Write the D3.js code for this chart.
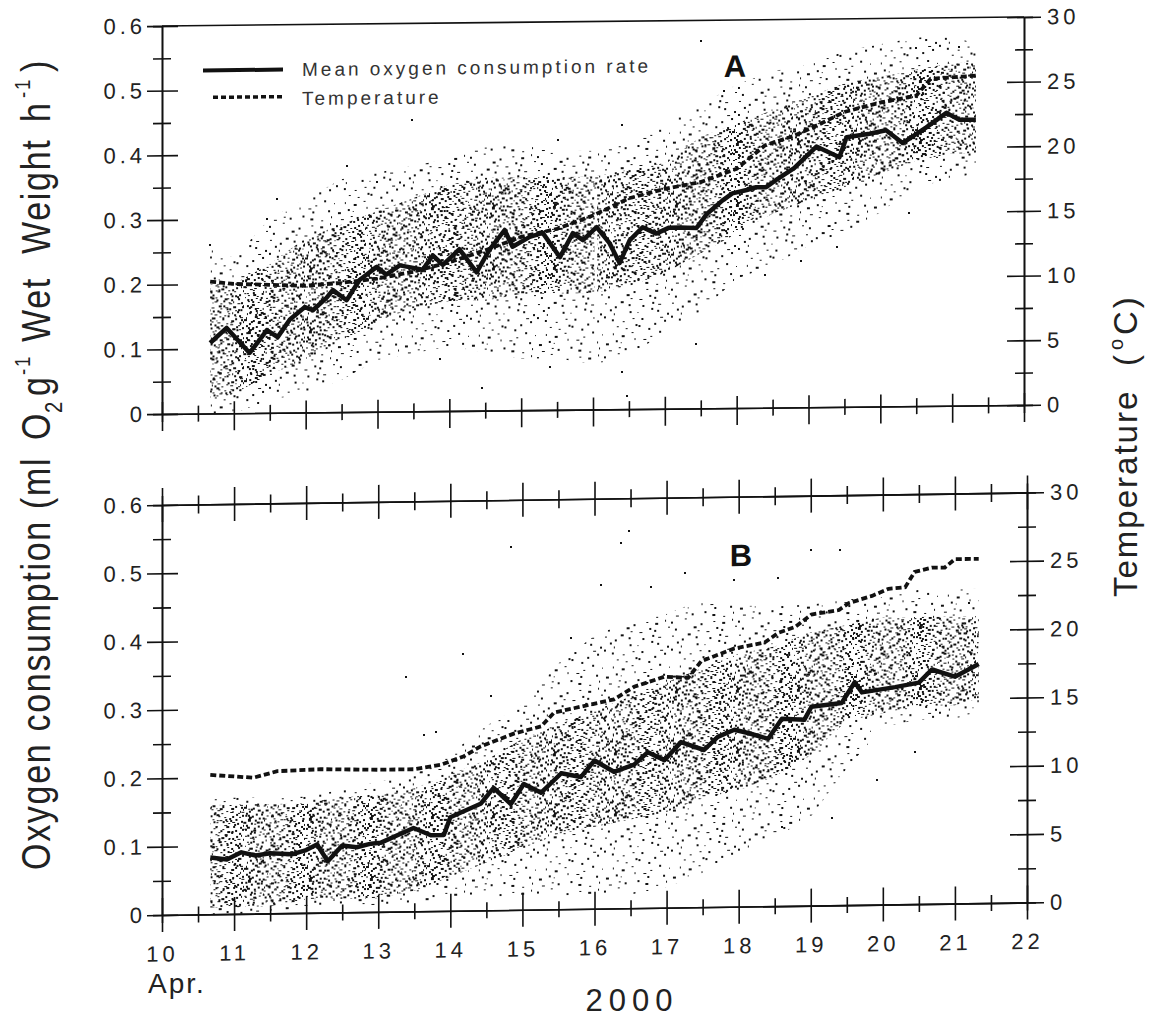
<!DOCTYPE html>
<html>
<head>
<meta charset="utf-8">
<script src="https://cdn.jsdelivr.net/npm/d3@7"></script>
<style>
  body { margin: 0; background: #fff; }
  text { font-family: "Liberation Sans", Arial, Helvetica, sans-serif; }
</style>
</head>
<body>
<script>
// Oxygen consumption vs temperature, two panels (A, B), April 10-22 2000
// cloud of single measurements is drawn as a stippled band (envelopes read off the scan)

const days = [10.67, 11, 11.5, 12, 12.5, 13, 13.5, 14, 14.5, 15, 15.5, 16, 16.5, 17, 17.5, 18, 18.5, 19, 19.5, 20, 20.5, 21, 21.33];

// panel A envelopes (ml O2 g-1 h-1)
const aOuterHi = [0.26,0.24,0.30,0.33,0.36,0.37,0.38,0.39,0.41,0.41,0.40,0.40,0.41,0.44,0.47,0.50,0.52,0.53,0.55,0.56,0.57,0.57,0.56];
const aOuterLo = [0.00,0.00,0.02,0.03,0.05,0.08,0.09,0.10,0.09,0.08,0.08,0.07,0.08,0.12,0.15,0.20,0.22,0.25,0.27,0.30,0.34,0.35,0.36];
const aInnerHi = [0.20,0.20,0.23,0.27,0.29,0.31,0.33,0.35,0.36,0.36,0.36,0.36,0.37,0.38,0.42,0.44,0.46,0.48,0.50,0.51,0.52,0.53,0.53];
const aInnerLo = [0.02,0.03,0.06,0.08,0.11,0.14,0.16,0.17,0.17,0.18,0.18,0.18,0.19,0.21,0.24,0.27,0.30,0.32,0.34,0.36,0.38,0.39,0.39];
// short break in the panel A recording [day, from, to]
const aGaps = [[16.04, 0.03, 0.33]];

// panel B envelopes
const bOuterHi = [0.17,0.17,0.17,0.17,0.18,0.19,0.20,0.23,0.27,0.30,0.36,0.40,0.42,0.43,0.45,0.44,0.44,0.44,0.45,0.45,0.46,0.46,0.46];
const bOuterLo = [0.00,0.00,0.00,0.01,0.01,0.01,0.01,0.02,0.02,0.02,0.02,0.02,0.02,0.03,0.05,0.08,0.10,0.13,0.20,0.26,0.27,0.27,0.28];
const bInnerHi = [0.16,0.16,0.16,0.16,0.17,0.17,0.18,0.20,0.22,0.25,0.27,0.29,0.31,0.33,0.35,0.37,0.38,0.40,0.41,0.42,0.42,0.42,0.42];
const bInnerLo = [0.01,0.01,0.01,0.02,0.02,0.02,0.03,0.05,0.07,0.09,0.11,0.12,0.13,0.14,0.16,0.17,0.19,0.22,0.27,0.28,0.29,0.29,0.30];

// isolated points outside the main cloud [day, value]
const aOutliers = [[13.48,0.45],[15.51,0.418],[16.4,0.44],[17.51,0.568],[17.83,0.49],[14.46,0.035],[15.4,0.067],[16.41,0.057],[16.47,0.02],
  [17.44,0.10],[18.39,0.205],[13.87,0.08],[12.57,0.38],[10.67,0.26],[11.46,0.30],[12.99,0.355],[11.6,0.33],[20.5,0.554],[18.9,0.227],
  [19.39,0.248],[20.4,0.299],[21.1,0.555]];
const bOutliers = [[14.84,0.531],[16.37,0.535],[16.48,0.552],[14.17,0.376],[13.38,0.343],[15.67,0.396],[16.09,0.474],[16.79,0.47],
  [17.25,0.49],[17.94,0.478],[18.55,0.48],[13.63,0.258],[13.8,0.262],[14.56,0.314],[19.01,0.52],[19.4,0.52],[19.92,0.182],[20.44,0.222],
  [19.29,0.128],[18.6,0.115],[21.2,0.44]];

// mean oxygen consumption rate [day, value]
const aMean = [[10.67,0.109],[10.9,0.132],[11.22,0.093],[11.46,0.128],[11.61,0.117],[11.78,0.144],[11.99,0.163],[12.1,0.158],[12.29,0.177],
  [12.38,0.189],[12.57,0.173],[12.75,0.204],[12.99,0.224],[13.12,0.212],[13.31,0.226],[13.63,0.219],[13.77,0.241],[13.91,0.226],[14.14,0.25],
  [14.38,0.214],[14.56,0.249],[14.77,0.279],[14.88,0.253],[15.12,0.268],[15.3,0.274],[15.54,0.236],[15.72,0.273],[15.86,0.262],[16.05,0.282],
  [16.23,0.257],[16.37,0.226],[16.51,0.261],[16.69,0.281],[16.88,0.271],[17.06,0.28],[17.2,0.28],[17.44,0.279],[17.58,0.3],[17.8,0.321],
  [17.94,0.332],[18.14,0.337],[18.27,0.341],[18.41,0.341],[18.55,0.352],[18.8,0.37],[19.11,0.403],[19.43,0.386],[19.53,0.417],[19.85,0.422],
  [20.08,0.427],[20.31,0.407],[20.64,0.431],[20.92,0.453],[21.1,0.442],[21.33,0.442]];
const bMean = [[10.67,0.083],[10.9,0.08],[11.1,0.09],[11.3,0.085],[11.5,0.088],[11.8,0.086],[12.0,0.092],[12.15,0.1],[12.3,0.075],[12.5,0.098],
  [12.7,0.095],[12.9,0.1],[13.03,0.101],[13.49,0.122],[13.73,0.111],[13.91,0.111],[14.0,0.137],[14.42,0.156],[14.6,0.179],[14.84,0.155],
  [15.02,0.184],[15.26,0.171],[15.54,0.199],[15.81,0.193],[16.0,0.217],[16.27,0.2],[16.55,0.21],[16.74,0.228],[16.97,0.216],[17.2,0.242],
  [17.52,0.23],[17.71,0.249],[17.94,0.259],[18.13,0.254],[18.41,0.245],[18.6,0.274],[18.91,0.272],[19.01,0.291],[19.43,0.296],[19.61,0.326],
  [19.71,0.311],[20.17,0.318],[20.5,0.324],[20.68,0.343],[21.0,0.332],[21.33,0.35]];

// temperature (deg C) [day, temp]
const aTemp = [[10.67,10.2],[11.0,10.0],[11.5,9.9],[12.0,9.8],[12.5,10.0],[13.0,10.3],[13.5,10.8],[14.0,11.5],[14.5,12.4],[15.0,13.4],
  [15.5,14.0],[16.0,15.0],[16.5,16.3],[17.0,17.0],[17.5,17.5],[18.0,18.5],[18.4,20.3],[18.8,21.0],[19.2,22.0],[19.5,22.8],[20.0,23.5],
  [20.5,24.0],[20.7,25.3],[21.33,25.5]];
const bTemp = [[10.67,10.2],[11.27,9.95],[11.6,10.4],[12.2,10.5],[13.0,10.4],[13.5,10.4],[13.87,10.7],[14.19,11.3],[14.42,12.0],[14.88,12.9],
  [15.26,13.4],[15.44,14.4],[15.81,14.8],[16.27,15.3],[16.55,16.2],[16.97,16.9],[17.3,16.8],[17.48,18.0],[17.94,18.9],[18.36,19.3],
  [18.55,20.0],[18.78,20.4],[19.01,21.3],[19.39,21.6],[19.53,22.1],[19.85,22.6],[20.08,23.1],[20.31,23.2],[20.44,24.3],[20.68,24.6],
  [20.86,24.6],[21.0,25.2],[21.33,25.2]];

// axis ticks
const dayTicks = d3.range(10, 23, 1);
const dayMinor = d3.range(10.5, 22, 1);
const o2Ticks = [0, 0.1, 0.2, 0.3, 0.4, 0.5, 0.6];
const o2Minor = [0.05, 0.15, 0.25, 0.35, 0.45, 0.55];
const tempTicks = [0, 5, 10, 15, 20, 25, 30];
const tempMinor = [2.5, 7.5, 12.5, 17.5, 22.5, 27.5];

const W = 1154, H = 1020, X0 = 162;
const ink = "#111";

const svg = d3.select("body").append("svg").attr("width", W).attr("height", H);
svg.append("rect").attr("width", W).attr("height", H).attr("fill", "#fff");

// stipple textures: specks spread with a Halton sequence so the tile does not look like a grid
const defs = svg.append("defs");
function halton(i, b) {
  let f = 1, r = 0;
  while (i > 0) { f /= b; r += f * (i % b); i = Math.floor(i / b); }
  return r;
}
function makePattern(id, size, n, offset) {
  const p = defs.append("pattern").attr("id", id)
    .attr("patternUnits", "userSpaceOnUse").attr("width", size).attr("height", size);
  const specks = d3.range(offset, offset + n).map(i => [
    halton(i, 2) * size, halton(i, 3) * size, 1.5 + halton(i, 5) * 1.2, 1.2 + halton(i, 7) * 0.9
  ]);
  p.selectAll("rect").data(specks).join("rect")
    .attr("x", d => d[0]).attr("y", d => d[1])
    .attr("width", d => d[2]).attr("height", d => d[3])
    .attr("fill", ink).attr("shape-rendering", "crispEdges");
}
makePattern("sparse", 67, 60, 11);
makePattern("dense", 61, 200, 300);

function drawPanel(cfg) {
  const x = d3.scaleLinear().domain([10, 22]).range([X0, cfg.right]);
  const y = d3.scaleLinear().domain([0, 0.6]).range([cfg.bottom, cfg.top]);
  const yT = d3.scaleLinear().domain([0, 30]).range([cfg.bottom, cfg.top]);
  const skew = Math.atan(cfg.slope) * 180 / Math.PI;

  const g = svg.append("g")
    .attr("transform", `translate(${X0},${cfg.bottom}) skewY(${skew}) translate(${-X0},${-cfg.bottom})`);

  // measurement cloud
  const env = (lo, hi) => d3.area()
    .x((d, i) => x(days[i]))
    .y0((d, i) => y(lo[i]))
    .y1((d, i) => y(hi[i]))(days);
  g.append("path").attr("d", env(cfg.outerLo, cfg.outerHi)).attr("fill", "url(#sparse)");
  g.append("path").attr("d", env(cfg.innerLo, cfg.innerHi)).attr("fill", "url(#dense)");
  g.append("g").selectAll("rect").data(cfg.outliers).join("rect")
    .attr("x", d => x(d[0]) - 1).attr("y", d => y(d[1]) - 1)
    .attr("width", 2).attr("height", 2).attr("fill", ink).attr("shape-rendering", "crispEdges");
  g.append("g").selectAll("line").data(cfg.gaps).join("line")
    .attr("x1", d => x(d[0])).attr("x2", d => x(d[0]))
    .attr("y1", d => y(d[1])).attr("y2", d => y(d[2]))
    .attr("stroke", "#fff").attr("stroke-width", 2.5);

  // temperature + mean lines
  g.append("path").datum(cfg.temp)
    .attr("d", d3.line().x(d => x(d[0])).y(d => yT(d[1])))
    .attr("fill", "none").attr("stroke", ink).attr("stroke-width", 3.8)
    .attr("stroke-dasharray", "6,3");
  g.append("path").datum(cfg.mean)
    .attr("d", d3.line().x(d => x(d[0])).y(d => y(d[1])))
    .attr("fill", "none").attr("stroke", ink).attr("stroke-width", 4.5)
    .attr("stroke-linejoin", "round");

  const axStyle = sel => {
    sel.select(".domain").attr("stroke", ink).attr("stroke-width", 1.6);
    sel.selectAll(".tick line").attr("stroke", ink).attr("stroke-width", 1.6);
    sel.selectAll("text").attr("fill", "#222").style("font-size", "22px").style("letter-spacing", "4px")
      .style("font-family", '"Liberation Sans", Arial, sans-serif');
  };
  const fmt = d => d === 0 ? "0" : d3.format(".1f")(d);

  // left axis
  g.append("g").attr("transform", `translate(${X0},0)`)
    .call(d3.axisLeft(y).tickValues(o2Ticks).tickSize(15).tickSizeOuter(0).tickPadding(1).tickFormat(fmt))
    .call(axStyle).call(s => s.selectAll(".tick line").attr("x1", 16));
  g.append("g").attr("transform", `translate(${X0},0)`)
    .call(d3.axisLeft(y).tickValues(o2Minor).tickSize(9).tickFormat(""))
    .call(axStyle).call(s => s.selectAll(".tick line").attr("x1", 9));

  // right axis (temperature)
  g.append("g").attr("transform", `translate(${cfg.right},0)`)
    .call(d3.axisRight(yT).tickValues(tempTicks).tickSize(17).tickSizeOuter(0).tickPadding(6))
    .call(axStyle).call(s => s.selectAll(".tick line").attr("x1", -17));
  g.append("g").attr("transform", `translate(${cfg.right},0)`)
    .call(d3.axisRight(yT).tickValues(tempMinor).tickSize(9).tickFormat(""))
    .call(axStyle).call(s => s.selectAll(".tick line").attr("x1", -9));

  // bottom axis
  g.append("g").attr("transform", `translate(0,${cfg.bottom})`)
    .call(d3.axisBottom(x).tickValues(dayTicks).tickSize(17).tickSizeOuter(0).tickPadding(14)
      .tickFormat(cfg.dayLabels ? d3.format("d") : ""))
    .call(axStyle).call(s => s.selectAll(".tick line").attr("y1", -cfg.tickUp));
  g.append("g").attr("transform", `translate(0,${cfg.bottom})`)
    .call(d3.axisBottom(x).tickValues(dayMinor).tickSize(8).tickFormat(""))
    .call(axStyle).call(s => s.selectAll(".tick line").attr("y1", -8));

  // top axis
  if (cfg.topTicks) {
    g.append("g").attr("transform", `translate(0,${cfg.top})`)
      .call(d3.axisTop(x).tickValues(dayTicks).tickSize(17).tickSizeOuter(0).tickFormat(""))
      .call(axStyle).call(s => s.selectAll(".tick line").attr("y1", 17));
    g.append("g").attr("transform", `translate(0,${cfg.top})`)
      .call(d3.axisTop(x).tickValues(dayMinor).tickSize(9).tickFormat(""))
      .call(axStyle).call(s => s.selectAll(".tick line").attr("y1", 9));
  } else {
    g.append("line").attr("x1", x(10)).attr("x2", x(22)).attr("y1", y(0.6)).attr("y2", y(0.6))
      .attr("stroke", ink).attr("stroke-width", 1.6);
  }

  // panel letter (placed in screen coords, undo skew)
  const unskew = (px, py) => py - cfg.slope * (px - X0);
  g.append("text").attr("x", cfg.letterX).attr("y", unskew(cfg.letterX, cfg.letterY))
    .attr("text-anchor", "middle").style("font-size", "31px").style("font-weight", "bold")
    .attr("fill", ink).text(cfg.letter);

  return { g, unskew };
}

const pA = drawPanel({
  top: 26, bottom: 414, right: 1024, slope: -9 / 862,
  outerLo: aOuterLo, outerHi: aOuterHi, innerLo: aInnerLo, innerHi: aInnerHi,
  outliers: aOutliers, gaps: aGaps, mean: aMean, temp: aTemp,
  dayLabels: false, tickUp: 12, topTicks: false,
  letter: "A", letterX: 735, letterY: 77
});
drawPanel({
  top: 505, bottom: 915, right: 1027, slope: -12.5 / 865,
  outerLo: bOuterLo, outerHi: bOuterHi, innerLo: bInnerLo, innerHi: bInnerHi,
  outliers: bOutliers, gaps: [], mean: bMean, temp: bTemp,
  dayLabels: true, tickUp: 17, topTicks: true,
  letter: "B", letterX: 741, letterY: 566
});

// legend in panel A
const lg = pA.g.append("g");
lg.append("line").attr("x1", 203).attr("x2", 283)
  .attr("y1", pA.unskew(243, 70)).attr("y2", pA.unskew(243, 70))
  .attr("stroke", ink).attr("stroke-width", 4);
lg.append("line").attr("x1", 213).attr("x2", 283)
  .attr("y1", pA.unskew(248, 97)).attr("y2", pA.unskew(248, 97))
  .attr("stroke", ink).attr("stroke-width", 3.5).attr("stroke-dasharray", "5,3");
lg.append("text").attr("x", 302).attr("y", pA.unskew(302, 76))
  .style("font-size", "19px").style("letter-spacing", "3px").attr("fill", "#333")
  .text("Mean oxygen consumption rate");
lg.append("text").attr("x", 302).attr("y", pA.unskew(302, 105))
  .style("font-size", "19px").style("letter-spacing", "3px").attr("fill", "#333")
  .text("Temperature");

// left axis title: condensed scan font, pieces placed by screen y (reading upward)
const SQ = 0.85;
const yl = svg.append("text").attr("transform", `translate(50,0) rotate(-90) scale(${SQ},1)`)
  .style("font-size", "40px").style("letter-spacing", "2px").attr("fill", "#222");
const titleParts = [
  ["Oxygen consumption (ml", 870, 0, 40],
  ["O", 440, 0, 40], ["2", 413, 12, 24],
  ["g", 396, 0, 40], ["-1", 375, -20, 22],
  ["Wet", 342, 0, 40], ["Weight", 254, 0, 40],
  ["h", 122, 0, 40], ["-1", 98, -20, 22], [")", 72, 0, 40]
];
yl.selectAll("tspan").data(titleParts).join("tspan")
  .attr("x", d => -d[1] / SQ).attr("y", d => d[2])
  .style("font-size", d => d[3] + "px")
  .text(d => d[0]);

// right axis title
const yr = svg.append("text").attr("transform", "translate(1137,0) rotate(-90)")
  .style("font-size", "33px").attr("fill", "#222");
yr.append("tspan").attr("x", -597).attr("y", 0).style("letter-spacing", "2px").text("Temperature");
yr.append("tspan").attr("x", -366).attr("y", 0).text("(");
yr.append("tspan").attr("x", -350).attr("y", -14).style("font-size", "20px").text("o");
yr.append("tspan").attr("x", -335).attr("y", 0).style("letter-spacing", "3px").text("C)");

// x annotations
svg.append("text").attr("x", 148).attr("y", 993).style("font-size", "28px")
  .style("letter-spacing", "2px").attr("fill", "#222").text("Apr.");
svg.append("text").attr("x", 632).attr("y", 1011).attr("text-anchor", "middle")
  .style("font-size", "31px").style("letter-spacing", "6px").attr("fill", "#222").text("2000");
</script>
</body>
</html>
